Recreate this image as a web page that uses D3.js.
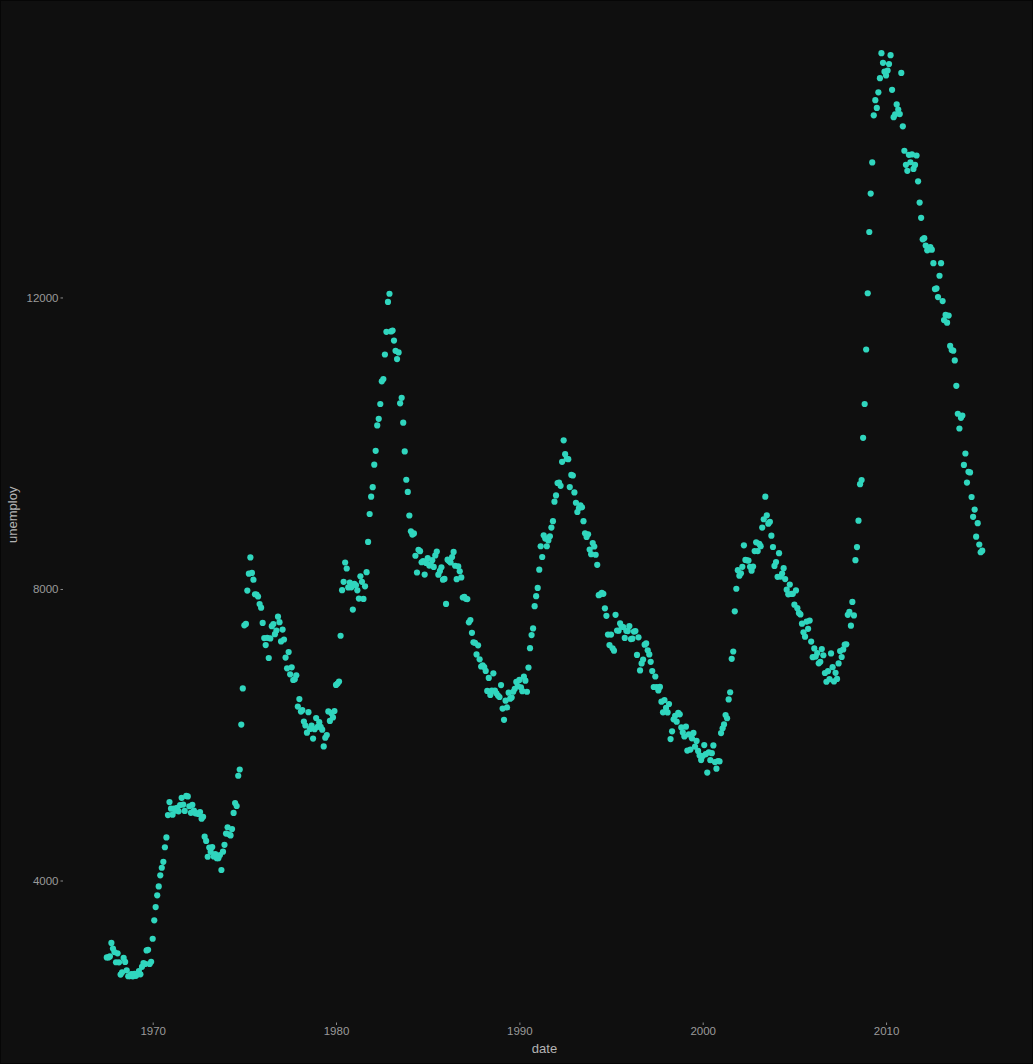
<!DOCTYPE html>
<html>
<head>
<meta charset="utf-8">
<script src="https://cdn.jsdelivr.net/npm/d3@7"></script>
<style>
  html, body { margin: 0; padding: 0; background: #0f0f0f; }
  svg { display: block; }
</style>
</head>
<body>
<script>
// ---- data (monthly unemployment, thousands) ----
const firstMonth = "1967-07-01";
const unemploy1960s = [
  2944, 2945, 2958, 3143, 3066, 3018,
  2878, 3001, 2877, 2709, 2740, 2938, 2883, 2768, 2686, 2689, 2715, 2685,
  2718, 2692, 2712, 2758, 2713, 2816, 2868, 2856, 3040, 3049, 2856, 2884
];
const unemploy1970s = [
  3201, 3453, 3635, 3797, 3919, 4071, 4175, 4256, 4456, 4591, 4898, 5076,
  4986, 4903, 4987, 4959, 4996, 4949, 5035, 5134, 5042, 4954, 5161, 5154,
  5019, 4928, 5038, 4959, 4922, 4923, 4913, 4939, 4849, 4875, 4602, 4543,
  4326, 4452, 4394, 4459, 4329, 4363, 4305, 4305, 4350, 4144, 4396, 4489,
  4644, 4731, 4634, 4618, 4705, 4927, 5063, 5022, 5437, 5523, 6140, 6636,
  7501, 7520, 7978, 8210, 8433, 8220, 8127, 7928, 7923, 7897, 7794, 7744,
  7534, 7326, 7230, 7330, 7053, 7322, 7490, 7518, 7380, 7430, 7620, 7545,
  7280, 7443, 7307, 7059, 6911, 7134, 6829, 6925, 6751, 6763, 6815, 6386,
  6489, 6318, 6337, 6180, 6127, 6028, 6309, 6080, 6125, 5947, 6077, 6228,
  6109, 6173, 6109, 6069, 5840, 5959, 5996, 6320, 6190, 6296, 6238, 6325
];
const unemploy1980s = [
  6683, 6702, 6729, 7358, 7984, 8098, 8363, 8281, 8021, 8088, 8023, 7718,
  8071, 8051, 7982, 7869, 8174, 8098, 7863, 8036, 8230, 8646, 9029, 9267,
  9397, 9705, 9895, 10244, 10335, 10538, 10849, 10881, 11217, 11529, 11938, 12051,
  11534, 11545, 11408, 11268, 11154, 11246, 10548, 10623, 10282, 9887, 9499, 9331,
  9008, 8791, 8746, 8762, 8456, 8226, 8537, 8519, 8367, 8381, 8198, 8358,
  8423, 8321, 8339, 8395, 8302, 8460, 8513, 8196, 8248, 8298, 8128, 8138,
  7795, 8402, 8383, 8364, 8439, 8508, 8319, 8135, 8310, 8243, 8159, 7883,
  7892, 7865, 7862, 7542, 7574, 7398, 7268, 7261, 7102, 7227, 7035, 6936,
  6953, 6929, 6876, 6601, 6779, 6546, 6605, 6843, 6604, 6568, 6537, 6518,
  6682, 6359, 6205, 6468, 6375, 6577, 6495, 6511, 6590, 6630, 6725, 6667
];
const unemploy1990s = [
  6752, 6651, 6598, 6797, 6742, 6590, 6922, 7188, 7368, 7459, 7764, 7901,
  8015, 8265, 8586, 8439, 8736, 8692, 8586, 8666, 8722, 8842, 8931, 9198,
  9283, 9454, 9460, 9415, 9744, 10040, 9850, 9787, 9781, 9398, 9565, 9557,
  9325, 9183, 9056, 9110, 9149, 9121, 8930, 8763, 8714, 8750, 8542, 8477,
  8630, 8583, 8470, 8331, 7915, 7927, 7946, 7933, 7734, 7632, 7375, 7230,
  7375, 7187, 7153, 7645, 7430, 7427, 7527, 7484, 7478, 7328, 7426, 7423,
  7491, 7313, 7318, 7415, 7423, 7095, 7337, 6882, 6979, 7031, 7236, 7253,
  7158, 7102, 7000, 6873, 6655, 6799, 6655, 6608, 6656, 6454, 6308, 6476,
  6368, 6306, 6422, 5941, 6047, 6212, 6259, 6179, 6300, 6280, 6100, 6032,
  5976, 6111, 5783, 6004, 5796, 5951, 6025, 5838, 5915, 5778, 5716, 5653
];
const unemploy2000s = [
  5708, 5858, 5733, 5481, 5758, 5651, 5747, 5853, 5625, 5534, 5639, 5634,
  6023, 6089, 6141, 6271, 6226, 6484, 6583, 7042, 7142, 7694, 8003, 8258,
  8182, 8215, 8304, 8599, 8399, 8393, 8390, 8304, 8251, 8307, 8520, 8640,
  8520, 8618, 8588, 8842, 8957, 9266, 9011, 8896, 8921, 8732, 8576, 8317,
  8370, 8167, 8491, 8170, 8212, 8286, 8136, 7990, 7927, 8061, 7932, 7934,
  7784, 7980, 7737, 7672, 7651, 7524, 7406, 7345, 7553, 7453, 7566, 7279,
  7064, 7184, 7072, 7120, 6980, 7001, 7175, 7091, 6847, 6727, 6872, 6762,
  7116, 6927, 6731, 6850, 6766, 6979, 7149, 7067, 7170, 7237, 7240, 7645,
  7685, 7497, 7822, 7637, 8395, 8575, 8937, 9438, 9494, 10074, 10538, 11286,
  12058, 12898, 13426, 13853, 14499, 14707, 14601, 14814, 15009, 15352, 15219, 15098
];
const unemploy2010s = [
  15046, 15113, 15202, 15325, 14849, 14474, 14512, 14648, 14579, 14516, 15081, 14348,
  14013, 13820, 13737, 13957, 13855, 13962, 13763, 13818, 13948, 13594, 13302, 13093,
  12797, 12813, 12713, 12646, 12660, 12692, 12656, 12471, 12115, 12124, 12005, 12298,
  12471, 11950, 11689, 11760, 11654, 11751, 11335, 11279, 11270, 11136, 10787, 10404,
  10202, 10349, 10380, 9702, 9859, 9460, 9608, 9599, 9262, 8990, 9090, 8717,
  8903, 8610, 8504, 8526
];
const xTickYears = [1970, 1980, 1990, 2000, 2010];
const yTickValues = [4000, 8000, 12000];
const xTitle = "date";
const yTitle = "unemploy";

// ---- build ----
const values = [].concat(unemploy1960s, unemploy1970s, unemploy1980s,
                         unemploy1990s, unemploy2000s, unemploy2010s);
const start = new Date(firstMonth + "T00:00:00");
const data = values.map((v, i) => ({
  date: new Date(start.getFullYear(), start.getMonth() + i, 1),
  value: v
}));

const W = 1033, H = 1064;
const panel = { left: 63, right: 1026, top: 7, bottom: 1022.5 };

const svg = d3.select("body").append("svg")
  .attr("width", W).attr("height", H);

svg.append("rect").attr("x", 0.5).attr("y", 0.5)
  .attr("width", W - 1).attr("height", H - 1)
  .attr("fill", "#0f0f0f").attr("stroke", "#060606").attr("stroke-width", 1);

const xExt = d3.extent(data, d => +d.date);
const xPad = (xExt[1] - xExt[0]) * 0.05;
const x = d3.scaleTime()
  .domain([new Date(xExt[0] - xPad), new Date(xExt[1] + xPad)])
  .range([panel.left, panel.right]);

const yExt = d3.extent(data, d => d.value);
const yPad = (yExt[1] - yExt[0]) * 0.05;
const y = d3.scaleLinear()
  .domain([yExt[0] - yPad, yExt[1] + yPad])
  .range([panel.bottom, panel.top]);

const font = "'Liberation Sans', Arial, sans-serif";

// x axis
const xAxis = d3.axisBottom(x)
  .tickValues(xTickYears.map(yr => new Date(yr, 0, 1)))
  .tickFormat(d3.timeFormat("%Y"))
  .tickSize(2.5).tickPadding(2);
const gx = svg.append("g").attr("transform", `translate(0,${panel.bottom})`).call(xAxis);
gx.select(".domain").remove();
gx.selectAll(".tick line").attr("stroke", "#8a8a8a").attr("stroke-width", 1);
gx.selectAll(".tick text").attr("fill", "#9a9a9a")
  .style("font-family", font).style("font-size", "11.5px");

// y axis
const yAxis = d3.axisLeft(y)
  .tickValues(yTickValues)
  .tickFormat(d3.format("d"))
  .tickSize(2.5).tickPadding(2);
const gy = svg.append("g").attr("transform", `translate(${panel.left},0)`).call(yAxis);
gy.select(".domain").remove();
gy.selectAll(".tick line").attr("stroke", "#8a8a8a").attr("stroke-width", 1);
gy.selectAll(".tick text").attr("fill", "#9a9a9a")
  .style("font-family", font).style("font-size", "11.5px");

// titles
svg.append("text")
  .attr("x", (panel.left + panel.right) / 2).attr("y", 1053)
  .attr("text-anchor", "middle")
  .attr("fill", "#b4b4b4")
  .style("font-family", font).style("font-size", "13px")
  .text(xTitle);

svg.append("text")
  .attr("transform", `translate(17,${(panel.top + panel.bottom) / 2}) rotate(-90)`)
  .attr("text-anchor", "middle")
  .attr("fill", "#b4b4b4")
  .style("font-family", font).style("font-size", "13px")
  .text(yTitle);

// points
svg.append("g").selectAll("circle")
  .data(data).join("circle")
  .attr("cx", d => x(d.date))
  .attr("cy", d => y(d.value))
  .attr("r", 3.1)
  .attr("fill", "#30d6be");
</script>
</body>
</html>
